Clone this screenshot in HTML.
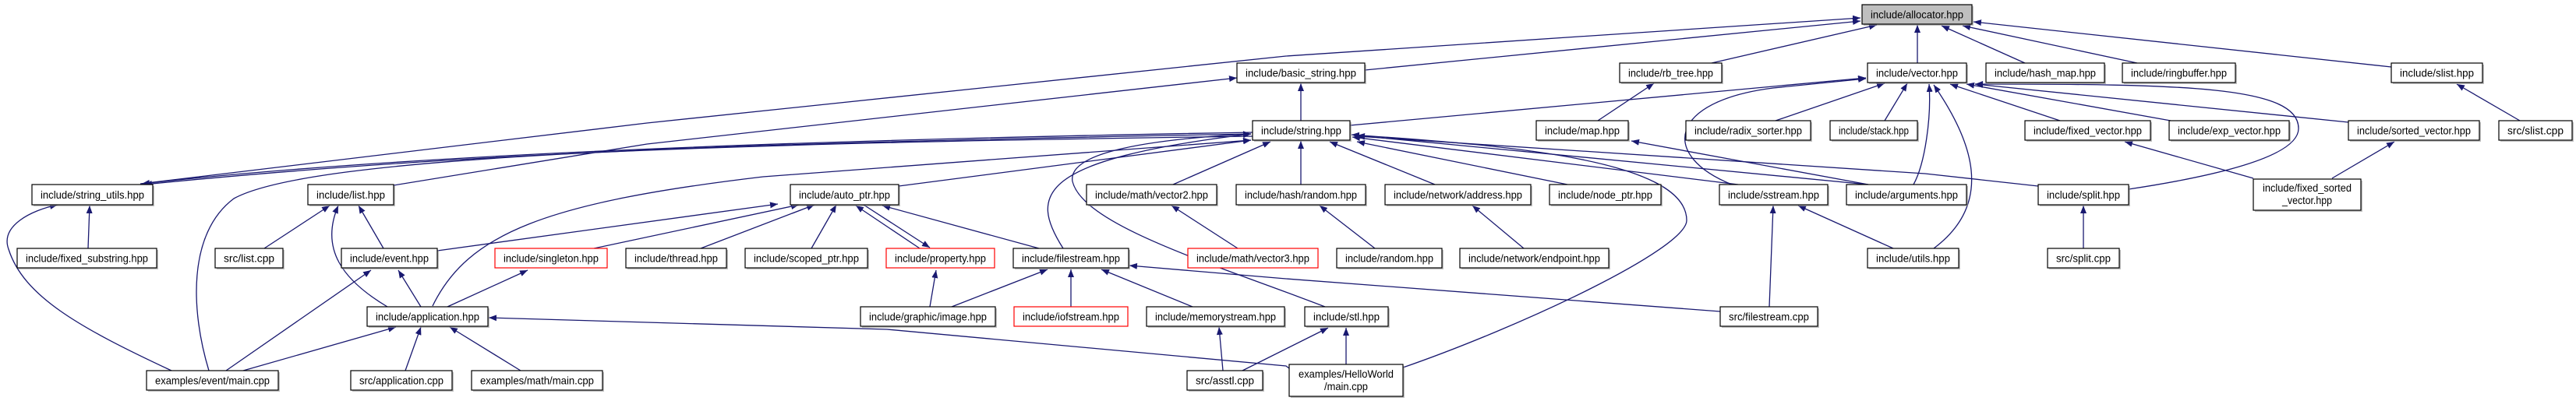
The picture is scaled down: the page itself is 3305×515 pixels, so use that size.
<!DOCTYPE html>
<html><head><meta charset="utf-8"><style>
html,body{margin:0;padding:0;background:#fff;width:3305px;height:515px;overflow:hidden}
svg{display:block}
text{font-family:"Liberation Sans Narrow","Liberation Sans",sans-serif;font-size:14px;fill:#000}
.e{fill:none;stroke:#191970;stroke-width:1.3}
.b{fill:#fff;stroke:#000;stroke-width:1.2}
.r{fill:#fff;stroke:#ff0000;stroke-width:1.2}
.g{fill:#bfbfbf;stroke:#000;stroke-width:1.2}
.s{fill:#999;opacity:.6}
</style></head><body>
<svg width="3305" height="515" viewBox="0 0 3305 515" xmlns="http://www.w3.org/2000/svg">
<defs><marker id="a" viewBox="0 0 10 8" refX="10" refY="4" markerWidth="10" markerHeight="8" markerUnits="userSpaceOnUse" orient="auto"><path d="M0,0L10,4L0,8z" fill="#191970"/></marker></defs>
<g class="e" marker-end="url(#a)">
<path d="M1751,90 L2387,27"/>
<path d="M180,236 L830,158 L1650,72 L2387,23"/>
<path d="M1607,170 C1000,180 500,200 182,236"/>
<path d="M1607,175 C1000,183 600,195 185,237"/>
<path d="M505,238 L830,185 L1587,100"/>
<path d="M268,476 C245,400 240,300 300,255 C400,200 900,185 1605,172"/>
<path d="M555,393 C600,300 700,260 979,227 L1605,180"/>
<path d="M561,322 L998,262"/>
<path d="M762,319 L1025,263"/>
<path d="M899,319 L1045,263"/>
<path d="M1041,319 L1073,263"/>
<path d="M1180,319 L1098,264"/>
<path d="M1108,263 L1193,318"/>
<path d="M1333,319 L1132,264"/>
<path d="M1153,239 L1605,180"/>
<path d="M1364,319 C1320,250 1330,205 1605,172"/>
<path d="M1700,394 C1560,340 1390,290 1376,233 C1370,200 1450,180 1605,172"/>
<path d="M1505,237 L1630,182"/>
<path d="M1588,319 L1503,264"/>
<path d="M2207,400 L1650,358 L1449,341"/>
<path d="M1193,394 L1201,347"/>
<path d="M1221,394 L1344,346"/>
<path d="M1374,394 L1374,346"/>
<path d="M1530,394 L1413,346"/>
<path d="M1569,476 L1564,420"/>
<path d="M1594,476 L1704,421"/>
<path d="M1654,473 L1650,470 L1138,423 L627,408"/>
<path d="M1727,468 L1727,421"/>
<path d="M1800,472 C1950,420 2164,320 2164,283 C2164,200 1900,185 1734,173"/>
<path d="M1669,237 L1669,181"/>
<path d="M1841,237 L1706,182"/>
<path d="M2011,237 L1741,182"/>
<path d="M2230,237 L1735,176"/>
<path d="M2397,237 L1741,174"/>
<path d="M2615,239 L2470,223 L1741,175"/>
<path d="M1732,161 L2394,100"/>
<path d="M1669,155 L1669,107"/>
<path d="M1764,319 L1693,264"/>
<path d="M1955,319 L1889,264"/>
<path d="M2050,155 L2122,107"/>
<path d="M2196,81 L2408,32"/>
<path d="M2460,81 L2460,32"/>
<path d="M2397,237 L2093,181"/>
<path d="M2222,237 C2130,200 2140,130 2275,113 L2394,101"/>
<path d="M2278,155 L2418,107"/>
<path d="M2418,155 L2447,107"/>
<path d="M2455,237 C2470,210 2478,150 2475,108"/>
<path d="M2429,319 L2307,264"/>
<path d="M2270,394 L2275,264"/>
<path d="M2481,319 C2560,260 2530,180 2481,109"/>
<path d="M2643,155 L2502,108"/>
<path d="M2785,155 L2523,108"/>
<path d="M3013,157 L2534,108"/>
<path d="M2731,243 C2850,225 2949,200 2949,165 C2949,110 2800,108 2534,108"/>
<path d="M2598,81 L2491,33"/>
<path d="M2742,81 L2518,33"/>
<path d="M3068,86 L2532,28"/>
<path d="M3233,155 L3152,108"/>
<path d="M2891,229 L2726,182"/>
<path d="M2992,229 L3072,182"/>
<path d="M2673,319 L2673,264"/>
<path d="M339,319 L423,264"/>
<path d="M497,394 C440,360 410,320 434,264"/>
<path d="M492,319 L460,264"/>
<path d="M113,319 L115,264"/>
<path d="M220,476 C100,420 30,380 11,320 C0,290 40,270 74,263"/>
<path d="M290,476 L476,347"/>
<path d="M312,476 L508,420"/>
<path d="M540,394 L511,347"/>
<path d="M574,394 L677,347"/>
<path d="M520,476 L540,420"/>
<path d="M668,476 L577,420"/>
</g>
<g text-anchor="middle">
<!-- boxes -->
<rect class="s" x="2391" y="8" width="141" height="25"/><rect class="g" x="2389" y="6" width="141" height="25"/><text x="2459.5" y="23.5" textLength="119" lengthAdjust="spacingAndGlyphs">include/allocator.hpp</text>
<rect class="s" x="1589" y="83" width="164" height="25"/><rect class="b" x="1587" y="81" width="164" height="25"/><text x="1669" y="98.5" textLength="142" lengthAdjust="spacingAndGlyphs">include/basic_string.hpp</text>
<rect class="s" x="2080" y="83" width="131" height="25"/><rect class="b" x="2078" y="81" width="131" height="25"/><text x="2143.5" y="98.5" textLength="109" lengthAdjust="spacingAndGlyphs">include/rb_tree.hpp</text>
<rect class="s" x="2398" y="83" width="127" height="25"/><rect class="b" x="2396" y="81" width="127" height="25"/><text x="2459.5" y="98.5" textLength="105" lengthAdjust="spacingAndGlyphs">include/vector.hpp</text>
<rect class="s" x="2550" y="83" width="152" height="25"/><rect class="b" x="2548" y="81" width="152" height="25"/><text x="2624" y="98.5" textLength="130" lengthAdjust="spacingAndGlyphs">include/hash_map.hpp</text>
<rect class="s" x="2725" y="83" width="145" height="25"/><rect class="b" x="2723" y="81" width="145" height="25"/><text x="2795.5" y="98.5" textLength="123" lengthAdjust="spacingAndGlyphs">include/ringbuffer.hpp</text>
<rect class="s" x="3070" y="83" width="117" height="25"/><rect class="b" x="3068" y="81" width="117" height="25"/><text x="3126.5" y="98.5" textLength="95" lengthAdjust="spacingAndGlyphs">include/slist.hpp</text>

<rect class="s" x="1609" y="157" width="125" height="25"/><rect class="b" x="1607" y="155" width="125" height="25"/><text x="1669.5" y="172.5" textLength="103" lengthAdjust="spacingAndGlyphs">include/string.hpp</text>
<rect class="s" x="1973" y="157" width="118" height="25"/><rect class="b" x="1971" y="155" width="118" height="25"/><text x="2030" y="172.5" textLength="96" lengthAdjust="spacingAndGlyphs">include/map.hpp</text>
<rect class="s" x="2165" y="157" width="160" height="25"/><rect class="b" x="2163" y="155" width="160" height="25"/><text x="2243" y="172.5" textLength="138" lengthAdjust="spacingAndGlyphs">include/radix_sorter.hpp</text>
<rect class="s" x="2350" y="157" width="112" height="25"/><rect class="b" x="2348" y="155" width="112" height="25"/><text x="2404" y="172.5" textLength="90" lengthAdjust="spacingAndGlyphs">include/stack.hpp</text>
<rect class="s" x="2600" y="157" width="161" height="25"/><rect class="b" x="2598" y="155" width="161" height="25"/><text x="2678.5" y="172.5" textLength="139" lengthAdjust="spacingAndGlyphs">include/fixed_vector.hpp</text>
<rect class="s" x="2785" y="157" width="154" height="25"/><rect class="b" x="2783" y="155" width="154" height="25"/><text x="2860" y="172.5" textLength="132" lengthAdjust="spacingAndGlyphs">include/exp_vector.hpp</text>
<rect class="s" x="3015" y="157" width="168" height="25"/><rect class="b" x="3013" y="155" width="168" height="25"/><text x="3097" y="172.5" textLength="146" lengthAdjust="spacingAndGlyphs">include/sorted_vector.hpp</text>
<rect class="s" x="3208" y="157" width="94" height="25"/><rect class="b" x="3206" y="155" width="94" height="25"/><text x="3253" y="172.5" textLength="72" lengthAdjust="spacingAndGlyphs">src/slist.cpp</text>

<rect class="s" x="43" y="239" width="155" height="26"/><rect class="b" x="41" y="237" width="155" height="26"/><text x="118.5" y="255" textLength="133" lengthAdjust="spacingAndGlyphs">include/string_utils.hpp</text>
<rect class="s" x="397" y="239" width="110" height="26"/><rect class="b" x="395" y="237" width="110" height="26"/><text x="450" y="255" textLength="88" lengthAdjust="spacingAndGlyphs">include/list.hpp</text>
<rect class="s" x="1016" y="239" width="139" height="26"/><rect class="b" x="1014" y="237" width="139" height="26"/><text x="1083.5" y="255" textLength="117" lengthAdjust="spacingAndGlyphs">include/auto_ptr.hpp</text>
<rect class="s" x="1396" y="239" width="167" height="26"/><rect class="b" x="1394" y="237" width="167" height="26"/><text x="1477.5" y="255" textLength="145" lengthAdjust="spacingAndGlyphs">include/math/vector2.hpp</text>
<rect class="s" x="1588" y="239" width="166" height="26"/><rect class="b" x="1586" y="237" width="166" height="26"/><text x="1669" y="255" textLength="144" lengthAdjust="spacingAndGlyphs">include/hash/random.hpp</text>
<rect class="s" x="1779" y="239" width="187" height="26"/><rect class="b" x="1777" y="237" width="187" height="26"/><text x="1870.5" y="255" textLength="165" lengthAdjust="spacingAndGlyphs">include/network/address.hpp</text>
<rect class="s" x="1990" y="239" width="143" height="26"/><rect class="b" x="1988" y="237" width="143" height="26"/><text x="2059.5" y="255" textLength="121" lengthAdjust="spacingAndGlyphs">include/node_ptr.hpp</text>
<rect class="s" x="2208" y="239" width="139" height="26"/><rect class="b" x="2206" y="237" width="139" height="26"/><text x="2275.5" y="255" textLength="117" lengthAdjust="spacingAndGlyphs">include/sstream.hpp</text>
<rect class="s" x="2371" y="239" width="154" height="26"/><rect class="b" x="2369" y="237" width="154" height="26"/><text x="2446" y="255" textLength="132" lengthAdjust="spacingAndGlyphs">include/arguments.hpp</text>
<rect class="s" x="2617" y="239" width="116" height="26"/><rect class="b" x="2615" y="237" width="116" height="26"/><text x="2673" y="255" textLength="94" lengthAdjust="spacingAndGlyphs">include/split.hpp</text>
<rect class="s" x="2893" y="232" width="138" height="40"/><rect class="b" x="2891" y="230" width="138" height="40"/><text x="2960" y="246" textLength="114" lengthAdjust="spacingAndGlyphs">include/fixed_sorted</text><text x="2960" y="262" textLength="64" lengthAdjust="spacingAndGlyphs">_vector.hpp</text>

<rect class="s" x="24" y="321" width="179" height="25"/><rect class="b" x="22" y="319" width="179" height="25"/><text x="111.5" y="336.5" textLength="157" lengthAdjust="spacingAndGlyphs">include/fixed_substring.hpp</text>
<rect class="s" x="278" y="321" width="87" height="25"/><rect class="b" x="276" y="319" width="87" height="25"/><text x="319.5" y="336.5" textLength="65" lengthAdjust="spacingAndGlyphs">src/list.cpp</text>
<rect class="s" x="440" y="321" width="123" height="25"/><rect class="b" x="438" y="319" width="123" height="25"/><text x="499.5" y="336.5" textLength="101" lengthAdjust="spacingAndGlyphs">include/event.hpp</text>
<rect class="r" x="635" y="319" width="144" height="25"/><text x="707" y="336.5" textLength="122" lengthAdjust="spacingAndGlyphs">include/singleton.hpp</text>
<rect class="s" x="805" y="321" width="129" height="25"/><rect class="b" x="803" y="319" width="129" height="25"/><text x="867.5" y="336.5" textLength="107" lengthAdjust="spacingAndGlyphs">include/thread.hpp</text>
<rect class="s" x="958" y="321" width="157" height="25"/><rect class="b" x="956" y="319" width="157" height="25"/><text x="1034.5" y="336.5" textLength="135" lengthAdjust="spacingAndGlyphs">include/scoped_ptr.hpp</text>
<rect class="r" x="1137" y="319" width="139" height="25"/><text x="1206.5" y="336.5" textLength="117" lengthAdjust="spacingAndGlyphs">include/property.hpp</text>
<rect class="s" x="1302" y="321" width="148" height="25"/><rect class="b" x="1300" y="319" width="148" height="25"/><text x="1374" y="336.5" textLength="126" lengthAdjust="spacingAndGlyphs">include/filestream.hpp</text>
<rect class="r" x="1524" y="319" width="167" height="25"/><text x="1607.5" y="336.5" textLength="145" lengthAdjust="spacingAndGlyphs">include/math/vector3.hpp</text>
<rect class="s" x="1717" y="321" width="135" height="25"/><rect class="b" x="1715" y="319" width="135" height="25"/><text x="1782.5" y="336.5" textLength="113" lengthAdjust="spacingAndGlyphs">include/random.hpp</text>
<rect class="s" x="1875" y="321" width="191" height="25"/><rect class="b" x="1873" y="319" width="191" height="25"/><text x="1968.5" y="336.5" textLength="169" lengthAdjust="spacingAndGlyphs">include/network/endpoint.hpp</text>
<rect class="s" x="2398" y="321" width="117" height="25"/><rect class="b" x="2396" y="319" width="117" height="25"/><text x="2454.5" y="336.5" textLength="95" lengthAdjust="spacingAndGlyphs">include/utils.hpp</text>
<rect class="s" x="2629" y="321" width="92" height="25"/><rect class="b" x="2627" y="319" width="92" height="25"/><text x="2673" y="336.5" textLength="70" lengthAdjust="spacingAndGlyphs">src/split.cpp</text>

<rect class="s" x="473" y="396" width="155" height="25"/><rect class="b" x="471" y="394" width="155" height="25"/><text x="548.5" y="411.5" textLength="133" lengthAdjust="spacingAndGlyphs">include/application.hpp</text>
<rect class="s" x="1106" y="396" width="173" height="25"/><rect class="b" x="1104" y="394" width="173" height="25"/><text x="1190.5" y="411.5" textLength="151" lengthAdjust="spacingAndGlyphs">include/graphic/image.hpp</text>
<rect class="r" x="1301" y="394" width="146" height="25"/><text x="1374" y="411.5" textLength="124" lengthAdjust="spacingAndGlyphs">include/iofstream.hpp</text>
<rect class="s" x="1473" y="396" width="177" height="25"/><rect class="b" x="1471" y="394" width="177" height="25"/><text x="1559.5" y="411.5" textLength="155" lengthAdjust="spacingAndGlyphs">include/memorystream.hpp</text>
<rect class="s" x="1676" y="396" width="107" height="25"/><rect class="b" x="1674" y="394" width="107" height="25"/><text x="1727.5" y="411.5" textLength="85" lengthAdjust="spacingAndGlyphs">include/stl.hpp</text>
<rect class="s" x="2209" y="396" width="125" height="25"/><rect class="b" x="2207" y="394" width="125" height="25"/><text x="2269.5" y="411.5" textLength="103" lengthAdjust="spacingAndGlyphs">src/filestream.cpp</text>

<rect class="s" x="1656" y="470" width="146" height="41"/><rect class="b" x="1654" y="468" width="146" height="41"/><text x="1727" y="485" textLength="122" lengthAdjust="spacingAndGlyphs">examples/HelloWorld</text><text x="1727" y="501" textLength="56" lengthAdjust="spacingAndGlyphs">/main.cpp</text>
<rect class="s" x="190" y="478" width="169" height="25"/><rect class="b" x="188" y="476" width="169" height="25"/><text x="272.5" y="493.5" textLength="147" lengthAdjust="spacingAndGlyphs">examples/event/main.cpp</text>
<rect class="s" x="452" y="478" width="130" height="25"/><rect class="b" x="450" y="476" width="130" height="25"/><text x="515" y="493.5" textLength="108" lengthAdjust="spacingAndGlyphs">src/application.cpp</text>
<rect class="s" x="607" y="478" width="168" height="25"/><rect class="b" x="605" y="476" width="168" height="25"/><text x="689" y="493.5" textLength="146" lengthAdjust="spacingAndGlyphs">examples/math/main.cpp</text>
<rect class="s" x="1525" y="478" width="97" height="25"/><rect class="b" x="1523" y="476" width="97" height="25"/><text x="1571.5" y="493.5" textLength="75" lengthAdjust="spacingAndGlyphs">src/asstl.cpp</text>
</g>
</svg>
</body></html>
